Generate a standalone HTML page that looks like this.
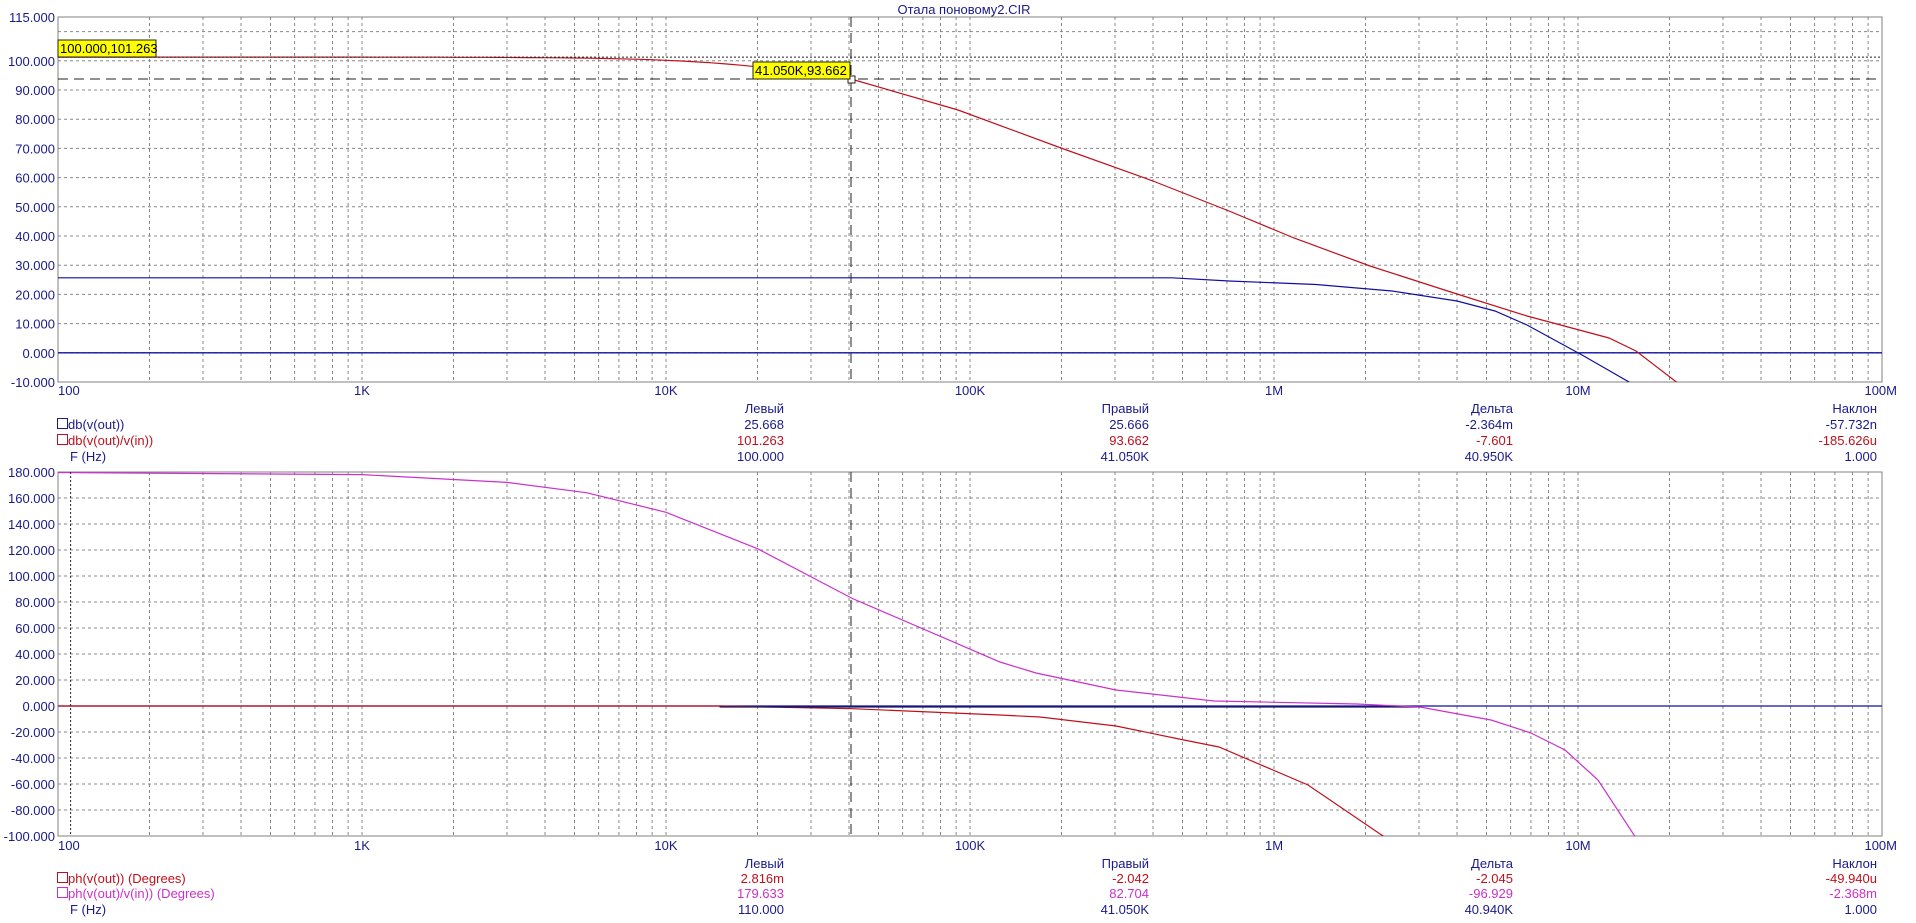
<!DOCTYPE html>
<html><head><meta charset="utf-8"><style>
body{margin:0;background:#fff;width:1916px;height:923px;overflow:hidden}
svg{display:block}
text{font-family:"Liberation Sans",Arial,sans-serif;font-size:13px}
</style></head><body>
<svg id="s" width="1916" height="923" xmlns="http://www.w3.org/2000/svg"></svg>
<script>
const S=document.getElementById('s');let h='';
const L=58,R=1882;
const X=f=>L+(Math.log10(f)-2)*304;
const T0=17,T1=382,B0=472,B1=836;
const YT=v=>T0+(115-v)*365/125;
const YB=v=>B0+(180-v)*1.3;
const NAV='#1a1a8c',RED='#c0101c',MAG='#cc30cc',BL='#1010a0';
h+='<defs><clipPath id="ct"><rect x="58" y="17" width="1824" height="365"/></clipPath><clipPath id="cb"><rect x="58" y="472" width="1824" height="364"/></clipPath></defs>';
function grid(y0,y1,hs){
  for(let d=2;d<8;d++)for(let k=1;k<10;k++){if(d==2&&k==1)continue;const x=X(k*Math.pow(10,d));
   h+=`<line x1="${x.toFixed(1)}" y1="${y0}" x2="${x.toFixed(1)}" y2="${y1}" stroke="#888" stroke-dasharray="3,3"/>`;}
  hs.forEach(y=>h+=`<line x1="${L}" y1="${y.toFixed(1)}" x2="${R}" y2="${y.toFixed(1)}" stroke="#888" stroke-dasharray="3,3"/>`);
  h+=`<rect x="${L}" y="${y0}" width="${R-L}" height="${y1-y0}" fill="none" stroke="#808080"/>`;
}
let ht=[];for(let v=0;v<=110;v+=10)ht.push(YT(v));
grid(T0,T1,ht);
let hb=[];for(let v=-80;v<=160;v+=20)hb.push(YB(v));
grid(B0,B1,hb);
// y labels
function tx(x,y,s,c,a){h+=`<text x="${x}" y="${y}" fill="${c}" text-anchor="${a||'start'}">${s}</text>`;}
[115,100,90,80,70,60,50,40,30,20,10,0,-10].forEach(v=>tx(55,YT(v)+5,v.toFixed(3),NAV,'end'));
for(let v=180;v>=-100;v-=20)tx(55,YB(v)+5,v.toFixed(3),NAV,'end');
const xl=['100','1K','10K','100K','1M','10M','100M'];
xl.forEach((s,i)=>{const x=L+i*304;const a=i==0?'start':(i==6?'end':'middle');const xx=i==0?L:(i==6?1897:x);tx(xx,395,s,NAV,a);tx(xx,850,s,NAV,a);});
tx(964,14,'Отала поновому2.CIR',NAV,'middle');
// zero lines
h+=`<line x1="${L}" y1="${YT(0)}" x2="${R}" y2="${YT(0)}" stroke="${BL}" stroke-width="1.3"/>`;
h+=`<line x1="${L}" y1="${YB(0)}" x2="${R}" y2="${YB(0)}" stroke="${BL}" stroke-width="1.3"/>`;
function pl(pts,c,cl){h+=`<polyline clip-path="url(#${cl})" fill="none" stroke="${c}" stroke-width="1.2" points="${pts.map(p=>p[0].toFixed(1)+','+p[1].toFixed(1)).join(' ')}"/>`;}
// top red
let r=[];for(let lf=2;lf<=Math.log10(41050);lf+=0.05){const f=Math.pow(10,lf);r.push([X(f),YT(101.263-10*Math.log10(1+Math.pow(f/18700,2)))]);}
r.push([851,79]);
[[958,110],[1061,148],[1153,181],[1229,211],[1294,238],[1370,266],[1457,294],[1527,316],[1609,338],[1636,351],[1679,384]].forEach(p=>r.push(p));
// top blue
const yb=YT(25.668);
let b=[[L,yb],[1172,yb],[1229,281],[1316,284.5],[1392,291],[1457,301],[1495,311],[1527,325],[1582,355],[1636,386]];
pl(b,BL,'ct');pl(r,RED,'ct');
// bottom
let m=[[100,179.6],[1000,178],[3000,172],[5500,164],[10000,149],[20000,121],[41050,82.7]].map(p=>[X(p[0]),YB(p[1])]);
[[1000,662],[1036,673],[1116,690],[1214,701],[1357,704],[1420,707],[1491,720],[1531,733],[1565,750],[1598,780],[1636,838]].forEach(p=>m.push(p));
let rb=[[L,YB(0)],[X(15000),YB(0)],[X(41050),YB(-2.04)],[1000,715],[1040,717],[1116,726],[1179,739],[1219,747],[1308,785],[1386,838]];
pl(rb,RED,'cb');
h+=`<line x1="${X(15000)}" y1="707" x2="1420" y2="707" stroke="#1a1a60" stroke-width="1.3"/>`;
pl(m,MAG,'cb');
// cursors
h+=`<line x1="${L}" y1="57.1" x2="${R}" y2="57.1" stroke="#222" stroke-dasharray="2,2"/>`;
h+=`<line x1="${L}" y1="79" x2="${R}" y2="79" stroke="#222" stroke-dasharray="10,6"/>`;
h+=`<line x1="851" y1="17" x2="851" y2="382" stroke="#222" stroke-dasharray="10,6"/>`;
h+=`<line x1="851" y1="472" x2="851" y2="836" stroke="#222" stroke-dasharray="10,6"/>`;
h+=`<line x1="70.6" y1="472" x2="70.6" y2="836" stroke="#222" stroke-dasharray="2,2"/>`;
h+=`<rect x="848" y="76" width="7" height="7" fill="#fff" stroke="#222"/>`;
h+=`<rect x="58" y="40" width="98" height="17" fill="#ffff00" stroke="#222"/>`;tx(60,53,'100.000,101.263','#000');
h+=`<rect x="753" y="62" width="97" height="17" fill="#ffff00" stroke="#222"/>`;tx(755,75,'41.050K,93.662','#000');
// legends
const cols=[784,1149,1513,1877];
function leg(y0,rows,hdr){
  ['Левый','Правый','Дельта','Наклон'].forEach((s,i)=>tx(cols[i],y0,s,NAV,'end'));
  rows.forEach((rw,j)=>{const y=y0+(hdr[j]);
    if(rw.box)h+=`<rect x="57.5" y="${y-10.5}" width="10" height="10" fill="none" stroke="${rw.c}"/>`;
    tx(rw.box?68:70,y,rw.n,rw.c);
    rw.v.forEach((s,i)=>tx(cols[i],y,s,rw.c,'end'));});
}
leg(413,[{n:'db(v(out))',c:NAV,box:1,v:['25.668','25.666','-2.364m','-57.732n']},
 {n:'db(v(out)/v(in))',c:RED,box:1,v:['101.263','93.662','-7.601','-185.626u']},
 {n:'F (Hz)',c:NAV,v:['100.000','41.050K','40.950K','1.000']}],[16,32,48]);
leg(868,[{n:'ph(v(out)) (Degrees)',c:RED,box:1,v:['2.816m','-2.042','-2.045','-49.940u']},
 {n:'ph(v(out)/v(in)) (Degrees)',c:MAG,box:1,v:['179.633','82.704','-96.929','-2.368m']},
 {n:'F (Hz)',c:NAV,v:['110.000','41.050K','40.940K','1.000']}],[15,30,46]);
S.innerHTML=h;
</script>
</body></html>
